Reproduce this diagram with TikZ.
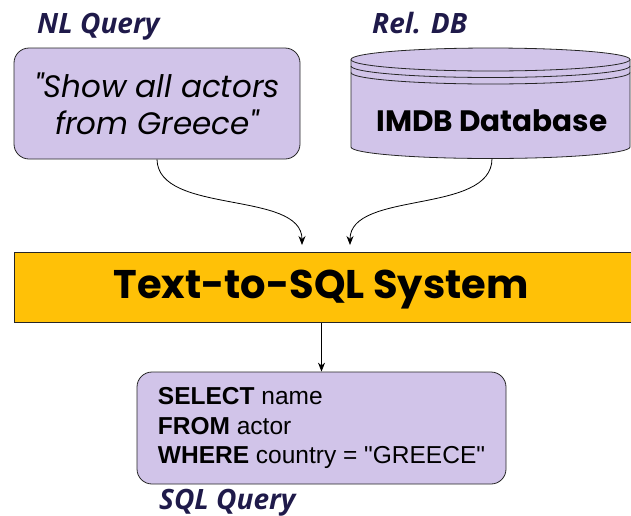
\documentclass[tikz,border=0pt]{standalone}
\usepackage{fontspec}
\newfontfamily\qfont{Poppins}
\newfontfamily\labelfont{Open Sans}
\newfontfamily\sqlfont{Liberation Sans}
\usetikzlibrary{arrows.meta}
\definecolor{lav}{HTML}{D1C4E9}
\definecolor{amber}{HTML}{FFC107}
\definecolor{navy}{HTML}{1F1A4A}
\begin{document}
\begin{tikzpicture}[x=1pt,y=-1pt,
  qbox/.style={draw=black!85, line width=0.8pt, fill=lav, rounded corners=15pt, inner sep=0pt},
  lbl/.style={text=navy, font=\labelfont\bfseries\itshape\fontsize{28}{31}\selectfont, inner sep=0pt, anchor=base west},
  flow/.style={draw=black, line width=0.8pt, -{Stealth[length=9pt,width=7pt]}}]
\useasboundingbox (0,0) rectangle (631,515);

% labels above and below the boxes
\node[lbl] (nllbl) at (37,33) {NL Query};
\node[lbl] (dblbl) at (372,33) {Rel. DB};
\node[lbl] (sqllbl) at (159,509) {SQL Query};

% natural language question
\node[qbox, minimum width=286pt, minimum height=111pt, align=center,
      font=\qfont\itshape\fontsize{31}{37}\selectfont] (nl) at (157,103.5)
  {"Show all actors\\from Greece"};

% database cylinder
\begin{scope}[line width=0.8pt]
  \filldraw[fill=lav, draw=black!85]
    (351,59.5) -- (351,147) arc[start angle=180, end angle=360, x radius=139.5pt, y radius=11.5pt]
    -- (630,59.5) arc[start angle=0, end angle=180, x radius=139.5pt, y radius=11.5pt] -- cycle;
  \draw[black!85] (351,59.5) arc[start angle=180, end angle=360, x radius=139.5pt, y radius=11.5pt];
  \draw[black!85] (351,66) arc[start angle=180, end angle=360, x radius=139.5pt, y radius=11.5pt];
  \draw[black!85] (351,72.5) arc[start angle=180, end angle=360, x radius=139.5pt, y radius=11.5pt];
\end{scope}
\node[inner sep=0pt, font=\qfont\bfseries\fontsize{29.5}{33}\selectfont] (db) at (492,121) {IMDB Database};
\coordinate (dbout) at (492,158.5);

% the system
\node[draw=black!85, line width=0.8pt, fill=amber, minimum width=620pt, minimum height=70pt,
      inner sep=0pt, anchor=north west] (sys) at (14,252) {};
\node[inner sep=0pt, font=\qfont\bfseries\fontsize{40}{44}\selectfont] (systxt) at (321,290) {Text-to-SQL System};

% generated query
\node[qbox, minimum width=369pt, minimum height=112pt, align=left,
      font=\sqlfont\fontsize{24.5}{29.5}\selectfont] (sql) at (321.5,428)
  {\textbf{SELECT} name\\\textbf{FROM} actor\\\textbf{WHERE} country = "GREECE"};

% connectors
\coordinate (inl) at (302,245);
\coordinate (indb) at (350,245);
\draw[flow] (nl.south) .. controls (158,215) and (302,190) .. (inl);
\draw[flow] (dbout) .. controls (492,215) and (350,190) .. (indb);
\draw[flow] (sys.south -| sql.north) -- (sql.north);
\end{tikzpicture}
\end{document}
